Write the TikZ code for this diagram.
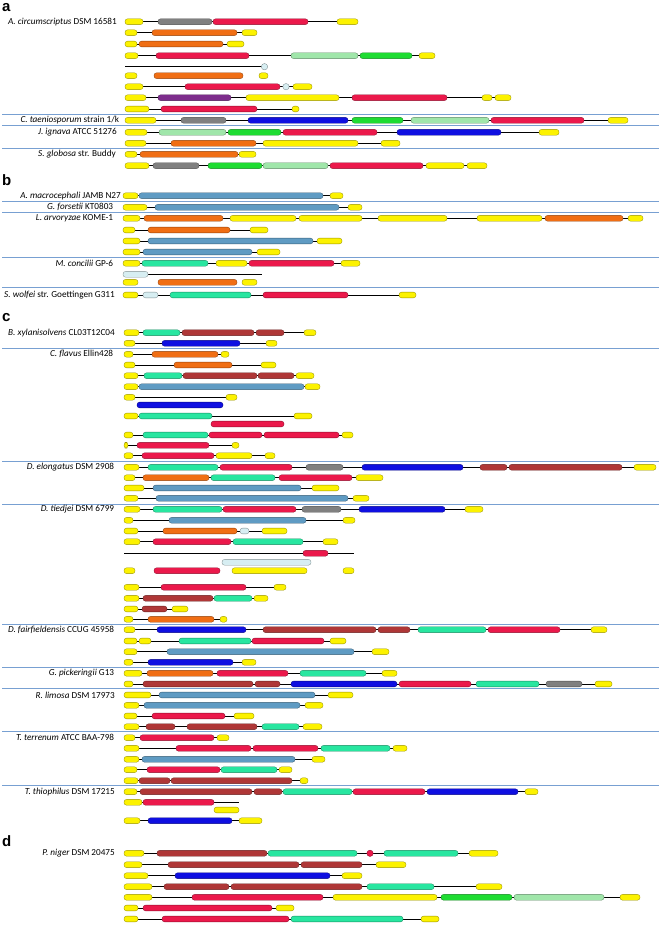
\documentclass[tikz,border=0pt]{standalone}
\usepackage{fontspec}
\setmainfont{Carlito}
\newfontfamily\letterfont{Liberation Sans}
\definecolor{gY}{RGB}{252,242,0}
\definecolor{gR}{RGB}{235,25,75}
\definecolor{gO}{RGB}{240,110,20}
\definecolor{gG}{RGB}{128,128,128}
\definecolor{gLG}{RGB}{160,230,170}
\definecolor{gBG}{RGB}{30,220,50}
\definecolor{gP}{RGB}{125,45,140}
\definecolor{gB}{RGB}{15,15,225}
\definecolor{gS}{RGB}{95,155,195}
\definecolor{gT}{RGB}{40,230,160}
\definecolor{gBr}{RGB}{175,55,55}
\definecolor{gPB}{RGB}{215,238,242}
\definecolor{sepcol}{RGB}{120,160,210}
\tikzset{
  gene/.style={fill=#1, draw=#1!60!black, line width=0.35pt, rounded corners=2.6pt},
  backbone/.style={draw=black, line width=0.75pt},
  sepline/.style={draw=sepcol, line width=0.8pt},
  lab/.style={anchor=east, inner sep=0pt, font=\fontsize{9.2}{10}\selectfont},
  seclet/.style={anchor=base west, inner sep=0pt, font=\letterfont\bfseries\fontsize{15}{15}\selectfont},
}
\newcommand{\bb}[3]{\draw[backbone] (#2,#1) -- (#3,#1);}
\newcommand{\gs}[2]{\foreach \xa/\xb/\xc in {#2} {\draw[gene=\xc] (\xa,{#1-2.9}) rectangle (\xb,{#1+2.9});}}
\newcommand{\sep}[1]{\draw[sepline] (2,#1) -- (659,#1);}
\newcommand{\dotc}[3]{\draw[fill=#3, draw=#3!60!black, line width=0.35pt] (#1,#2) circle (3.2);}
\begin{document}
\begin{tikzpicture}[x=1pt,y=-1pt]
\useasboundingbox (0,0) rectangle (661,928);
% ---------------- a
\node[seclet] (la) at (2,11.7) {a};
\node[lab] (s1) at (117,21.7) {\itshape A. circumscriptus\upshape\ DSM 16581};
\bb{21.7}{125}{358}\gs{21.7}{125/143/gY,158/212/gG,213/308/gR,337/358/gY}
\bb{32.7}{125}{257}\gs{32.7}{125/137/gY,152/237/gO,242/257/gY}
\bb{44}{125}{244}\gs{44}{125/137/gY,139/223/gO,227/244/gY}
\bb{55.7}{125}{435}\gs{55.7}{125/138/gY,156/249/gR,291/358/gLG,360/412/gBG,419/435/gY}
\bb{66.7}{125}{263}\dotc{264.5}{66.7}{gPB}
\gs{75.7}{125/137/gY,154/243/gO,259/268/gY}
\bb{86.7}{125}{312}\gs{86.7}{125/143/gY,185/280/gR,293/312/gY}\dotc{286}{86.7}{gPB}
\bb{97.7}{125}{511}\gs{97.7}{125/146/gY,158/231/gP,246/339/gY,352/447/gR,482/492/gY,495/511/gY}
\bb{109}{125}{299}\gs{109}{125/149/gY,161/257/gR,292/299/gY}
\sep{114.3}
\node[lab] (s2) at (119.3,120.3) {\itshape C. taeniosporum\upshape\ strain 1/k};
\bb{120.3}{125}{628}\gs{120.3}{125/156/gY,181/226/gG,248/348/gB,352/403/gBG,411/489/gLG,491/584/gR,608/628/gY}
\sep{125.7}
\node[lab] (s3) at (117,132.3) {\itshape J. ignava\upshape\ ATCC 51276};
\bb{132.3}{125}{559}\gs{132.3}{125/147/gY,159/226/gLG,228/281/gBG,283/377/gR,397/501/gB,539/559/gY}
\bb{143.3}{125}{400}\gs{143.3}{125/146/gY,171/256/gO,263/358/gY,381/400/gY}
\sep{148}
\node[lab] (s4) at (116,154.3) {\itshape S. globosa\upshape\ str. Buddy};
\bb{154.3}{125}{256}\gs{154.3}{125/137/gY,140/238/gO,239/256/gY}
\bb{165.7}{125}{487}\gs{165.7}{125/149/gY,153/199/gG,208/262/gBG,263/328/gLG,330/423/gR,426/464/gY,467/487/gY}
% ---------------- b
\node[seclet] (lb) at (2,185.5) {b};
\node[lab] (s5) at (121,195.7) {\itshape A. macrocephali\upshape\ JAMB N27};
\bb{195.7}{123}{343}\gs{195.7}{123/138/gY,139/323/gS,330/343/gY}
\sep{201.3}
\node[lab] (s6) at (113.3,207.3) {\itshape G. forsetii\upshape\ KT0803};
\bb{207.3}{123}{362}\gs{207.3}{123/147/gY,155/339/gS,348/362/gY}
\sep{212.7}
\node[lab] (s7) at (113.3,218.3) {\itshape L. arvoryzae\upshape\ KOME-1};
\bb{218.3}{123}{643}\gs{218.3}{123/140/gY,144/223/gO,230/296/gY,299/362/gY,378/447/gY,477/542/gY,545/623/gO,628/643/gY}
\bb{230}{123}{268}\gs{230}{123/135/gY,148/230/gO,250/268/gY}
\bb{241}{123}{342}\gs{241}{123/140/gY,148/313/gS,317/342/gY}
\bb{252}{123}{280}\gs{252}{123/140/gY,143/252/gS,257/280/gY}
\sep{257}
\node[lab] (s8) at (113.3,263.3) {\itshape M. concilii\upshape\ GP-6};
\bb{263.3}{123}{360}\gs{263.3}{123/140/gY,142/208/gT,216/247/gY,249/334/gR,341/360/gY}
\bb{274.3}{123}{262}\gs{274.3}{123/148/gPB}
\gs{282.3}{123/138/gY,158/237/gO,242/257/gY}
\sep{287.7}
\node[lab] (s9) at (115,295) {\itshape S. wolfei\upshape\ str. Goettingen G311};
\bb{295}{123}{416}\gs{295}{123/138/gY,143/158/gPB,170/251/gT,263/348/gR,399/416/gY}
% ---------------- c
\node[seclet] (lc) at (2,321.7) {c};
\node[lab] (s10) at (115,332.7) {\itshape B. xylanisolvens\upshape\ CL03T12C04};
\bb{332.7}{124}{316}\gs{332.7}{124/139/gY,143/180/gT,182/254/gBr,256/284/gBr,304/316/gY}
\bb{343.3}{124}{277}\gs{343.3}{124/135/gY,162/240/gB,266/277/gY}
\sep{348.7}
\node[lab] (s11) at (113.3,354.3) {\itshape C. flavus\upshape\ Ellin428};
\bb{354.3}{124}{229}\gs{354.3}{124/133/gY,152/218/gO,221/229/gY}
\bb{365}{124}{276}\gs{365}{124/135/gY,174/232/gO,261/276/gY}
\bb{375.7}{124}{314}\gs{375.7}{124/138/gY,144/182/gT,183/257/gBr,258/294/gBr,296/314/gY}
\bb{386.7}{124}{320}\gs{386.7}{124/138/gY,139/304/gS,305/320/gY}
\bb{397.3}{124}{237}\gs{397.3}{124/135/gY,226/237/gY}
\gs{405}{137/223/gB}
\bb{416}{124}{312}\gs{416}{124/138/gY,139/212/gT,294/312/gY}
\gs{424}{211/284/gR}
\bb{435}{124}{353}\gs{435}{124/133/gY,143/208/gT,209/262/gR,264/339/gR,342/353/gY}
\bb{445.3}{124}{239}\gs{445.3}{124/128/gY,137/209/gR,232/239/gY}
\bb{455.7}{124}{275}\gs{455.7}{124/133/gY,142/214/gR,216/252/gY,265/275/gY}
\sep{461}
\node[lab] (s12) at (114.3,467.3) {\itshape D. elongatus\upshape\ DSM 2908};
\bb{467.3}{124}{656}\gs{467.3}{124/139/gY,148/218/gT,220/292/gR,306/343/gG,362/463/gB,480/507/gBr,509/622/gBr,634/656/gY}
\bb{477.7}{124}{383}\gs{477.7}{124/135/gY,143/209/gO,211/275/gT,279/352/gR,356/383/gY}
\bb{488}{124}{339}\gs{488}{124/144/gY,153/301/gS,312/339/gY}
\bb{498.3}{124}{369}\gs{498.3}{124/138/gY,156/348/gS,353/369/gY}
\sep{504}
\node[lab] (s13) at (114.3,509.3) {\itshape D. tiedjei\upshape\ DSM 6799};
\bb{509.3}{124}{483}\gs{509.3}{124/140/gY,153/222/gT,223/296/gR,302/341/gG,359/445/gB,465/483/gY}
\bb{520.3}{124}{355}\gs{520.3}{124/133/gY,169/306/gS,343/355/gY}
\bb{531}{124}{287}\gs{531}{124/138/gY,163/237/gO,240/249/gPB,262/287/gY}
\bb{541.7}{124}{338}\gs{541.7}{124/140/gY,153/231/gR,233/303/gT,323/338/gY}
\bb{553.3}{124}{354}\gs{553.3}{303/328/gR}
\gs{562.3}{222/311/gPB}
\gs{570.7}{124/135/gY,154/220/gR,232/307/gY,343/354/gY}
\bb{587.3}{124}{286}\gs{587.3}{124/139/gY,161/246/gR,274/286/gY}
\bb{598.3}{124}{268}\gs{598.3}{124/139/gY,143/213/gBr,214/252/gT,254/268/gY}
\bb{609}{124}{188}\gs{609}{124/138/gY,142/167/gBr,172/188/gY}
\bb{619.3}{124}{227}\gs{619.3}{124/133/gY,148/214/gO,220/227/gY}
\sep{624.3}
\node[lab] (s14) at (114.3,629.7) {\itshape D. fairfieldensis\upshape\ CCUG 45958};
\bb{629.7}{124}{607}\gs{629.7}{124/135/gY,157/246/gB,263/376/gBr,378/410/gBr,418/486/gT,488/560/gR,591/607/gY}
\bb{641}{124}{346}\gs{641}{124/137/gY,139/151/gY,179/251/gT,252/324/gR,330/346/gY}
\bb{651.7}{124}{389}\gs{651.7}{124/137/gY,167/354/gS,372/389/gY}
\bb{662.3}{124}{256}\gs{662.3}{124/133/gY,148/233/gB,242/256/gY}
\sep{667}
\node[lab] (s15) at (114.3,673.3) {\itshape G. pickeringii\upshape\ G13};
\bb{673.3}{124}{397}\gs{673.3}{124/142/gY,147/213/gO,217/288/gR,300/366/gT,382/397/gY}
\bb{684}{124}{612}\gs{684}{124/133/gY,143/253/gBr,255/280/gBr,291/397/gB,399/471/gR,476/539/gT,546/582/gG,595/612/gY}
\sep{688.7}
\node[lab] (s16) at (115,695) {\itshape R. limosa\upshape\ DSM 17973};
\bb{695}{124}{353}\gs{695}{124/151/gY,159/315/gS,328/353/gY}
\bb{705.3}{124}{323}\gs{705.3}{124/139/gY,144/300/gS,305/323/gY}
\bb{716}{124}{254}\gs{716}{124/137/gY,152/225/gR,234/254/gY}
\bb{726.7}{124}{322}\gs{726.7}{124/139/gY,146/175/gBr,187/257/gBr,262/299/gT,303/322/gY}
\sep{731.7}
\node[lab] (s17) at (114.3,737.7) {\itshape T. terrenum\upshape\ ATCC BAA-798};
\bb{737.7}{124}{229}\gs{737.7}{124/135/gY,140/214/gR,217/229/gY}
\bb{748.3}{124}{407}\gs{748.3}{124/139/gY,176/251/gR,253/318/gR,321/390/gT,393/407/gY}
\bb{759.3}{124}{325}\gs{759.3}{124/139/gY,142/295/gS,312/325/gY}
\bb{769.7}{124}{292}\gs{769.7}{124/137/gY,147/220/gR,221/277/gT,279/292/gY}
\bb{780.7}{124}{308}\gs{780.7}{124/138/gY,139/170/gBr,171/292/gBr,300/308/gY}
\sep{785.7}
\node[lab] (s18) at (115,791.7) {\itshape T. thiophilus\upshape\ DSM 17215};
\bb{791.7}{124}{538}\gs{791.7}{124/137/gY,140/252/gBr,254/282/gBr,283/352/gT,353/425/gR,427/518/gB,525/538/gY}
\bb{802.3}{124}{239}\gs{802.3}{124/142/gY,143/214/gR}
\gs{810}{214/239/gY}
\bb{820.7}{124}{262}\gs{820.7}{124/140/gY,148/232/gB,239/262/gY}
% ---------------- d
\node[seclet] (ld) at (2,846.7) {d};
\node[lab] (s19) at (115,853.3) {\itshape P. niger\upshape\ DSM 20475};
\bb{853.3}{124}{498}\gs{853.3}{124/144/gY,157/267/gBr,268/357/gT,384/458/gT,469/498/gY}\dotc{370}{853.3}{gR}
\bb{864.7}{124}{406}\gs{864.7}{124/142/gY,168/299/gBr,301/362/gBr,376/406/gY}
\bb{875.7}{124}{362}\gs{875.7}{124/148/gY,175/330/gB,342/362/gY}
\bb{886.7}{124}{502}\gs{886.7}{124/152/gY,164/229/gBr,231/362/gBr,367/434/gT,476/502/gY}
\bb{897.3}{124}{640}\gs{897.3}{124/152/gY,192/323/gR,333/437/gY,441/512/gBG,514/604/gLG,620/640/gY}
\bb{908}{124}{294}\gs{908}{124/138/gY,143/272/gR,276/294/gY}
\bb{919}{124}{439}\gs{919}{124/138/gY,162/289/gR,291/403/gT,421/439/gY}
\end{tikzpicture}
\end{document}
